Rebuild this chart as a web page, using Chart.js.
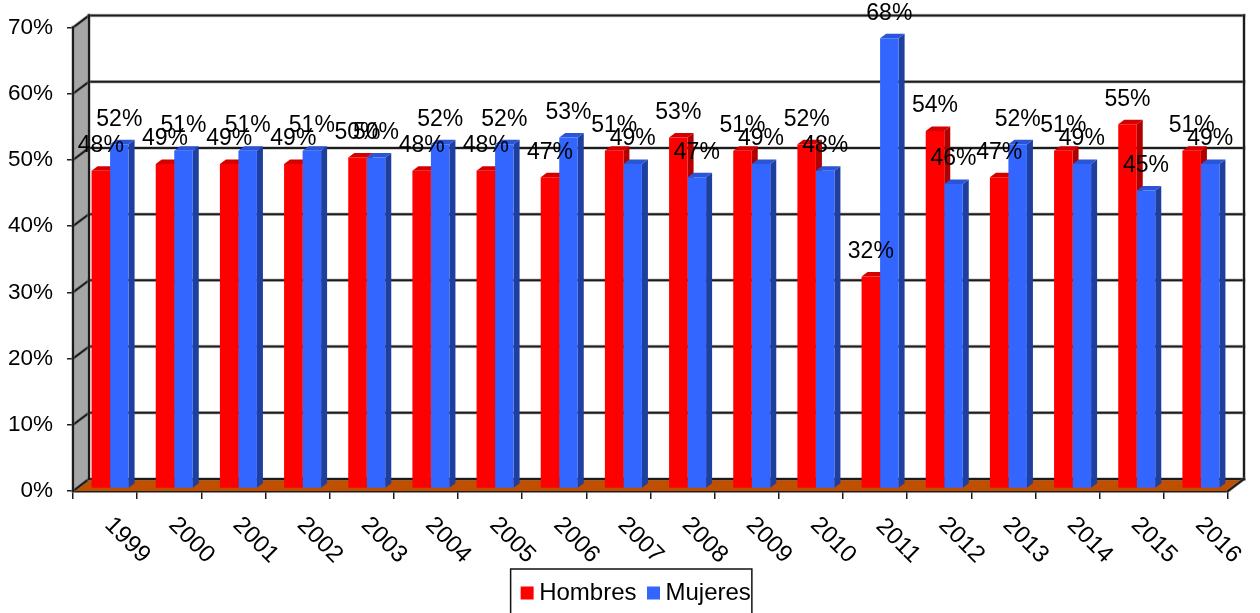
<!DOCTYPE html>
<html>
<head>
<meta charset="utf-8">
<style>
  html, body { margin: 0; padding: 0; background: #fff; overflow: hidden; }
  #wrap { width: 1260px; height: 613px; }
</style>
</head>
<body>
<div id="wrap"><canvas id="chart" width="1260" height="613"></canvas></div>
<script src="https://cdn.jsdelivr.net/npm/chart.js@4"></script>
<script>
const years = ["1999", "2000", "2001", "2002", "2003", "2004", "2005", "2006", "2007", "2008", "2009", "2010", "2011", "2012", "2013", "2014", "2015", "2016"];
const hombres = [48, 49, 49, 49, 50, 48, 48, 47, 51, 53, 51, 52, 32, 54, 47, 51, 55, 51];
const mujeres = [52, 51, 51, 51, 50, 52, 52, 53, 49, 47, 49, 48, 68, 46, 52, 49, 45, 49];

const fontFamily = "'Liberation Sans', Arial, sans-serif";
const lineColor = "#1c1c1c";

// depth of the box and of the bars, in pixels
const wall = { dx: 16, dy: -12 };
const bar3d = { dx: 6, dy: -4.5, shiftX: 5, shiftY: -2.5 };

const shades = {
  Hombres: { side: "#b00000", top: "#d40000" },
  Mujeres: { side: "#1f3f9e", top: "#2a55d6" },
};

function strokeLine(ctx, x1, y1, x2, y2) {
  ctx.lineCap = "square";
  ctx.strokeStyle = "rgba(120, 120, 120, 0.45)";
  ctx.lineWidth = 3.5;
  ctx.beginPath();
  ctx.moveTo(x1, y1);
  ctx.lineTo(x2, y2);
  ctx.stroke();
  ctx.strokeStyle = lineColor;
  ctx.lineWidth = 2;
  ctx.beginPath();
  ctx.moveTo(x1, y1);
  ctx.lineTo(x2, y2);
  ctx.stroke();
}

const boxPlugin = {
  id: "box3d",
  afterLayout(chart) {
    // rotated year labels run below the legend's top edge, so don't clip them there
    chart.scales.x.bottom = chart.height;
    // the legend sits a little right of the canvas centre
    const legend = chart.legend;
    legend.left += 25;
    legend.right += 25;
    legend.top += 2;
    legend.bottom += 2;
    legend.adjustHitBoxes();
  },
  beforeDatasetsDraw(chart) {
    const { ctx, chartArea: a, scales } = chart;
    const y = scales.y;
    const zero = y.getPixelForValue(0);
    const top = y.getPixelForValue(70);
    ctx.save();

    // left wall
    ctx.fillStyle = "#a6a6a6";
    ctx.beginPath();
    ctx.moveTo(a.left, top);
    ctx.lineTo(a.left + wall.dx, top + wall.dy);
    ctx.lineTo(a.left + wall.dx, zero + wall.dy);
    ctx.lineTo(a.left, zero);
    ctx.closePath();
    ctx.fill();

    // floor
    ctx.fillStyle = "#c05000";
    ctx.beginPath();
    ctx.moveTo(a.left, zero);
    ctx.lineTo(a.left + wall.dx, zero + wall.dy);
    ctx.lineTo(a.right + wall.dx, zero + wall.dy);
    ctx.lineTo(a.right, zero);
    ctx.closePath();
    ctx.fill();

    // grid lines on the back and left walls
    y.ticks.forEach((tick) => {
      const py = y.getPixelForValue(tick.value);
      strokeLine(ctx, a.left, py, a.left + wall.dx, py + wall.dy);
      strokeLine(ctx, a.left + wall.dx, py + wall.dy, a.right + wall.dx, py + wall.dy);
    });
    strokeLine(ctx, a.left + wall.dx, top + wall.dy, a.left + wall.dx, zero + wall.dy);
    strokeLine(ctx, a.right + wall.dx, top + wall.dy, a.right + wall.dx, zero + wall.dy);
    strokeLine(ctx, a.right, zero, a.right + wall.dx, zero + wall.dy);
    strokeLine(ctx, a.left, top, a.left, zero);
    ctx.restore();

    // everything drawn for the bars sits in the middle of the floor
    ctx.save();
    ctx.translate(bar3d.shiftX, bar3d.shiftY);

    // sides and tops go first: the fronts chart.js draws next must cover them
    [0, 1].forEach((i) => {
      const meta = chart.getDatasetMeta(i);
      const colors = shades[meta.label];
      meta.data.forEach((el) => {
        const { x, y: barTop, base, width } = el.getProps(["x", "y", "base", "width"], true);
        const right = x + width / 2;
        const left = x - width / 2;
        ctx.fillStyle = colors.side;
        ctx.beginPath();
        ctx.moveTo(right, barTop);
        ctx.lineTo(right + bar3d.dx, barTop + bar3d.dy);
        ctx.lineTo(right + bar3d.dx, base + bar3d.dy);
        ctx.lineTo(right, base);
        ctx.closePath();
        ctx.fill();
        ctx.fillStyle = colors.top;
        ctx.beginPath();
        ctx.moveTo(left, barTop);
        ctx.lineTo(left + bar3d.dx, barTop + bar3d.dy);
        ctx.lineTo(right + bar3d.dx, barTop + bar3d.dy);
        ctx.lineTo(right, barTop);
        ctx.closePath();
        ctx.fill();
      });
    });
  },
  afterDatasetsDraw(chart) {
    const { ctx } = chart;
    ctx.restore();

    // value labels, on top of all bars
    ctx.save();
    ctx.font = "23px " + fontFamily;
    ctx.fillStyle = "#000";
    ctx.textAlign = "center";
    ctx.textBaseline = "middle";
    chart.data.datasets.forEach((ds, i) => {
      chart.getDatasetMeta(i).data.forEach((el, j) => {
        const x = el.x + bar3d.shiftX;
        const y = el.y + bar3d.shiftY - 25;
        ctx.fillText(ds.data[j] + "%", x, y);
      });
    });
    ctx.restore();
  },
  afterDraw(chart) {
    const { ctx, legend } = chart;
    const boxes = legend.legendHitBoxes;
    if (!boxes || boxes.length < 2) return;
    const left = boxes[0].left - 16.5;
    const right = boxes[1].left + boxes[1].width + 1;
    const top = 569;
    ctx.save();
    ctx.strokeStyle = "#111";
    ctx.lineWidth = 1.5;
    ctx.strokeRect(left, top, right - left, 60);
    ctx.restore();
  },
};

new Chart(document.getElementById("chart"), {
  type: "bar",
  data: {
    labels: years,
    datasets: [
      { label: "Hombres", data: hombres, backgroundColor: "#ff0000", clip: false },
      { label: "Mujeres", data: mujeres, backgroundColor: "#3366ff", clip: false },
    ],
  },
  options: {
    responsive: false,
    animation: false,
    maintainAspectRatio: false,
    layout: { padding: { top: 27, right: 32, left: 0, bottom: 0 } },
    datasets: { bar: { barPercentage: 1, categoryPercentage: 0.577 } },
    plugins: {
      tooltip: { enabled: false },
      legend: {
        position: "bottom",
        labels: {
          usePointStyle: true,
          pointStyle: "rect",
          boxWidth: 0.01,
          boxHeight: 13,
          padding: 17,
          color: "#000",
          font: { family: fontFamily, size: 24 },
        },
      },
    },
    scales: {
      x: {
        afterFit: (scale) => { scale.height = 71; },
        grid: { drawOnChartArea: false, offset: true, tickLength: 8, color: lineColor, lineWidth: 1.5 },
        border: { color: lineColor, width: 2.5 },
        ticks: {
          autoSkip: false,
          minRotation: -45,
          maxRotation: -45,
          labelOffset: 41,
          padding: 50,
          color: "#000",
          font: { family: fontFamily, size: 24 },
        },
      },
      y: {
        min: 0,
        max: 70,
        afterFit: (scale) => { scale.width = 73; },
        grid: { drawOnChartArea: false, tickLength: 6, color: lineColor, lineWidth: 1.5 },
        border: { color: lineColor, width: 2 },
        ticks: {
          stepSize: 10,
          padding: 14,
          color: "#000",
          font: { family: fontFamily, size: 22.5 },
          callback: (value) => value + "%",
        },
      },
    },
  },
  plugins: [boxPlugin],
});
</script>
</body>
</html>
